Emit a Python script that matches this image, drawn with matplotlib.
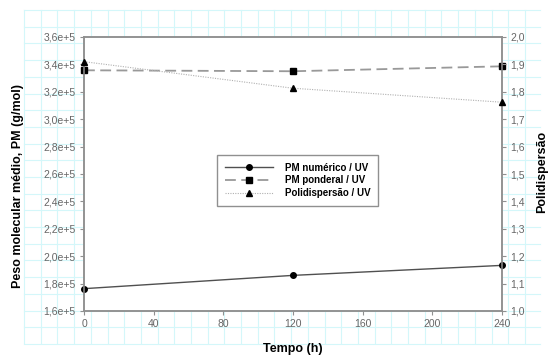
import matplotlib
matplotlib.use('Agg')
import matplotlib.pyplot as plt
from matplotlib.lines import Line2D

plt.rcParams['font.family'] = ['Liberation Sans', 'DejaVu Sans']

# data
tempo = [0, 120, 240]
pm_numerico = [1.763e5, 1.86e5, 1.933e5]
pm_ponderal = [3.357e5, 3.35e5, 3.386e5]
polidispersao = [1.91, 1.813, 1.762]

x_ticks = [0, 40, 80, 120, 160, 200, 240]
left_ticks = [1.6e5, 1.8e5, 2.0e5, 2.2e5, 2.4e5, 2.6e5, 2.8e5, 3.0e5, 3.2e5, 3.4e5, 3.6e5]
right_ticks = [1.0, 1.1, 1.2, 1.3, 1.4, 1.5, 1.6, 1.7, 1.8, 1.9, 2.0]

labels = ['PM numérico / UV', 'PM ponderal / UV', 'Polidispersão / UV']

W, H = 550, 356
fig = plt.figure(figsize=(W / 100, H / 100), dpi=100)

# light cyan paper grid behind the chart
bg = fig.add_axes([0, 0, 1, 1], zorder=0)
bg.set_xlim(0, W)
bg.set_ylim(H, 0)
bg.axis('off')
step = 16.7
gx = 24.0
while gx <= 541:
    bg.plot([gx, gx], [10, 343], color='#d4f7fa', lw=0.8)
    gx += step
gy = 10.0
while gy <= 344:
    bg.plot([24, 540], [gy, gy], color='#d4f7fa', lw=0.8)
    gy += step

ax = fig.add_axes([84 / W, 1 - 311 / H, (502 - 84) / W, (311 - 37) / H], zorder=1)
ax.set_facecolor('white')
ax2 = ax.twinx()

ax.plot(tempo, pm_numerico, color='#505050', lw=1.0, marker='o', ms=4,
        mfc='black', mec='black', clip_on=False, zorder=3)
ax.plot(tempo, pm_ponderal, color='#999999', lw=1.3, ls=(0, (6, 3)), marker='s', ms=4.5,
        mfc='black', mec='black', clip_on=False, zorder=3)
ax2.plot(tempo, polidispersao, color='#b0b0b0', lw=0.8, ls=(0, (1, 1.2)), marker='^', ms=4.5,
         mfc='black', mec='black', clip_on=False, zorder=3)

ax.set_xlim(0, 240)
ax.set_ylim(1.6e5, 3.6e5)
ax2.set_ylim(1.0, 2.0)
ax.set_xticks(x_ticks)
ax.set_xticklabels([str(t) for t in x_ticks])
ax.set_yticks(left_ticks)
ax.set_yticklabels([('%.1fe+5' % (v / 1e5)).replace('.', ',') for v in left_ticks])
ax2.set_yticks(right_ticks)
ax2.set_yticklabels([('%.1f' % v).replace('.', ',') for v in right_ticks])

for a in (ax, ax2):
    for s in a.spines.values():
        s.set_color('#909090')
        s.set_linewidth(1.1)
    a.tick_params(colors='#909090', labelcolor='#666666', labelsize=7.5, length=3, width=0.8, pad=3)

handles = [
    Line2D([], [], color='#505050', lw=1.0, marker='o', ms=4, mfc='black', mec='black'),
    Line2D([], [], color='#999999', lw=1.3, ls=(0, (6, 3)), marker='s', ms=4.5, mfc='black', mec='black'),
    Line2D([], [], color='#b0b0b0', lw=0.8, ls=(0, (1, 1.2)), marker='^', ms=4.5, mfc='black', mec='black'),
]
leg = ax2.legend(handles, labels, loc='upper left', bbox_to_anchor=(0.306, 0.588),
                 fancybox=False, framealpha=1, edgecolor='#909090', handlelength=5,
                 labelspacing=0.3, borderpad=0.8, handletextpad=1.2,
                 prop={'weight': 'bold', 'size': 7})
leg.get_frame().set_linewidth(1.0)

fig.text(18 / W, 1 - 186 / H, 'Peso molecular médio, PM (g/mol)', rotation=90,
         ha='center', va='center', fontsize=9, fontweight='bold')
fig.text(542 / W, 1 - 172 / H, 'Polidispersão', rotation=90,
         ha='center', va='center', fontsize=9, fontweight='bold')
fig.text(293 / W, 1 - 349 / H, 'Tempo (h)', ha='center', va='center',
         fontsize=9, fontweight='bold')

fig.savefig('out.png', dpi=100)
